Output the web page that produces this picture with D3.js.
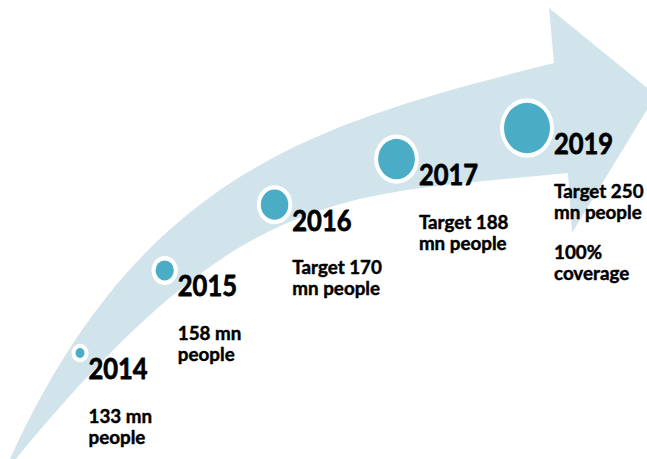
<!DOCTYPE html>
<html>
<head>
<meta charset="utf-8">
<script src="https://cdn.jsdelivr.net/npm/d3@7"></script>
<style>
  html, body { margin: 0; padding: 0; background: #fff; overflow: hidden; }
  text { font-family: Lato, "Open Sans", sans-serif; font-weight: 700; fill: #000; stroke: #000; stroke-linejoin: round; }
  text.year { stroke-width: 0.7; }
  text.body { stroke-width: 0.45; }
</style>
</head>
<body>
<svg id="chart" width="647" height="459"></svg>
<script>
// Milestones of the coverage roadmap
const years = ["2014", "2015", "2016", "2017", "2019"];
const peopleMn = [133, 158, 170, 188, 250];
const isTarget = [false, false, true, true, true];
const coveragePct = [null, null, null, null, 100];

const W = 647, H = 459;
const svg = d3.select("#chart");

// ---- sweeping arrow (decorative background) ----
const arrow = d3.path();
arrow.moveTo(9, 461);
arrow.bezierCurveTo(140, 173, 314, 123, 554, 63);   // upper edge of the shaft
arrow.lineTo(549, 8);                               // head, upper barb
arrow.lineTo(656, 95);                              // head tip
arrow.lineTo(572, 233);                             // head, lower barb
arrow.lineTo(568, 173);
arrow.bezierCurveTo(338, 196, 243, 183, 14, 461);   // lower edge of the shaft
arrow.closePath();

svg.append("path")
  .attr("d", arrow.toString())
  .attr("fill", "#d1e4eb");

// ---- guide curve the milestones sit on ----
const G = [[80, 353], [205, 195], [417, 150], [527, 128]];
function bez(t) {
  const m = 1 - t;
  const a = m * m * m, b = 3 * m * m * t, c = 3 * m * t * t, d = t * t * t;
  return [a * G[0][0] + b * G[1][0] + c * G[2][0] + d * G[3][0],
          a * G[0][1] + b * G[1][1] + c * G[2][1] + d * G[3][1]];
}
function yAtX(x) {
  let lo = 0, hi = 1;
  for (let k = 0; k < 40; k++) {
    const mid = (lo + hi) / 2;
    if (bez(mid)[0] < x) lo = mid; else hi = mid;
  }
  return bez((lo + hi) / 2)[1];
}

const idx = d3.range(years.length);
const x = d3.scalePow().exponent(1.2).domain([0, years.length - 1]).range([80, 527]);
const r = d3.scaleLinear().domain([0, years.length - 1]).range([4.5, 23]);
const squash = 1.1;   // markers are slightly taller than wide

const nodes = idx.map(i => {
  const cx = x(i);
  return {
    i, cx, cy: yAtX(cx), r: r(i),
    year: years[i],
    lines: isTarget[i]
      ? ["Target " + peopleMn[i], "mn people"]
      : [peopleMn[i] + " mn", "people"],
    extra: coveragePct[i] != null ? [coveragePct[i] + "%", "coverage"] : []
  };
});

const marks = svg.append("g").selectAll("g").data(nodes).join("g");
marks.append("ellipse")
  .attr("cx", d => d.cx).attr("cy", d => d.cy)
  .attr("rx", d => d.r + 4).attr("ry", d => (d.r + 4) * squash)
  .attr("fill", "#ffffff");
marks.append("ellipse")
  .attr("cx", d => d.cx).attr("cy", d => d.cy)
  .attr("rx", d => d.r).attr("ry", d => d.r * squash)
  .attr("fill", "#4bacc6");

// ---- labels ----
const yearSize = 25.5, bodySize = 18.8, lineGap = 21, paraGap = 40;
const labels = svg.append("g").selectAll("g").data(nodes).join("g")
  .attr("transform", d => `translate(${d.cx + d.r + 4},${d.cy + 26})`);

labels.append("text")
  .attr("class", "year")
  .attr("transform", "scale(1,1.1)")
  .attr("font-size", yearSize)
  .text(d => d.year);

labels.each(function(d) {
  const g = d3.select(this);
  let y = 43.5;
  d.lines.forEach(t => {
    g.append("text").attr("class", "body").attr("font-size", bodySize).attr("y", y).text(t);
    y += lineGap;
  });
  y += paraGap - lineGap;
  d.extra.forEach(t => {
    g.append("text").attr("class", "body").attr("font-size", bodySize).attr("y", y).text(t);
    y += lineGap;
  });
});
</script>
</body>
</html>
